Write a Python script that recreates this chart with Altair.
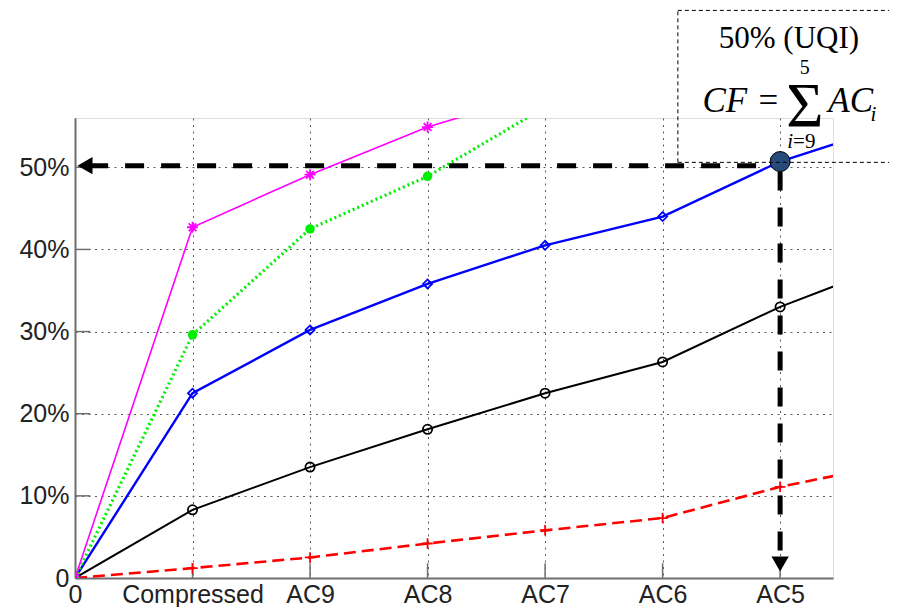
import altair as alt
import pandas as pd

# ---------------- data ----------------
categories = ["0", "Compressed", "AC9", "AC8", "AC7", "AC6", "AC5", "AC4"]
x_index = [0, 1, 2, 3, 4, 5, 6, 7]

magenta_vals = [0.0, 0.427, 0.491, 0.549, 0.592]
green_vals = [0.0, 0.296, 0.425, 0.489, 0.573]
blue_vals = [0.0, 0.225, 0.302, 0.358, 0.405, 0.440, 0.507, 0.553]
black_vals = [0.0, 0.083, 0.135, 0.181, 0.225, 0.263, 0.330, 0.385]
red_vals = [0.0, 0.012, 0.025, 0.042, 0.058, 0.073, 0.111, 0.140]

y_ticks = [0.0, 0.1, 0.2, 0.3, 0.4, 0.5]
x_ticks = [0, 1, 2, 3, 4, 5, 6]

# highlighted point (50% UQI at AC5)
hl_x = [6]
hl_y = [0.507]

# annotation: arrows
h_arrow = {"x": [0.12], "x2": [6.0], "y": [0.502]}
h_head = {"x": [0.085], "y": [0.502]}
v_arrow = {"x": [6.0], "y": [0.495], "y2": [0.03]}
v_head = {"x": [6.0], "y": [0.017]}

# annotation box (three visible sides)
box_x = [5.13, 7.2]
box_y = [0.506, 0.691]

# annotation text pieces
ann_text = ["50% (UQI)", "CF", "=", "\u03a3", "5", "AC", "i", "i", "=9"]
ann_x = [6.075, 5.72, 5.90, 6.21, 6.21, 6.41, 6.77, 6.11, 6.11]
ann_y = [0.645, 0.567, 0.567, 0.549, 0.613, 0.567, 0.556, 0.5235, 0.5235]
ann_size = [31, 35, 35, 64, 20, 35, 21, 21, 21]
ann_style = ["normal", "italic", "normal", "normal", "normal", "italic", "italic", "italic", "normal"]
ann_align = ["center", "right", "center", "center", "center", "left", "left", "right", "left"]

# ---------------- chart ----------------
W, H = 758, 460
xscale = alt.Scale(domain=[0, 6.45], nice=False, zero=False)
yscale = alt.Scale(domain=[0, 0.56], nice=False)

label_expr = "['0','Compressed','AC9','AC8','AC7','AC6','AC5'][datum.value]"
xaxis = alt.Axis(values=x_ticks, labelExpr=label_expr, grid=True, gridDash=[2, 4.5],
                 gridColor="#5a5a5a", gridWidth=1, ticks=False, domainColor="#6e6e6e",
                 domainWidth=2, labelFont="Liberation Sans", labelFontSize=25,
                 labelColor="#222222", labelPadding=4, labelFlush=False,
                 labelOverlap=False, title="")
yaxis = alt.Axis(values=y_ticks, labelExpr="datum.value == 0 ? '0' : format(datum.value, '.0%')",
                 grid=True, gridDash=[2, 4.5], gridColor="#5a5a5a", gridWidth=1, ticks=False,
                 domainColor="#6e6e6e", domainWidth=2, labelFont="Liberation Sans",
                 labelFontSize=25, labelColor="#222222", labelPadding=6, labelFlush=False,
                 labelOverlap=False, title="")


def X(field="x"):
    return alt.X(field, type="quantitative", scale=xscale, axis=xaxis)


def Y(field="y"):
    return alt.Y(field, type="quantitative", scale=yscale, axis=yaxis)


# inner ticks (MATLAB style)
ytick_df = pd.DataFrame({"y": y_ticks[1:], "x": [0.0] * 5, "x2": [0.13] * 5})
xtick_df = pd.DataFrame({"x": x_ticks[1:], "y": [0.0] * 6, "y2": [0.018] * 6})
yticks = alt.Chart(ytick_df).mark_rule(color="#6e6e6e", strokeWidth=1.5).encode(
    x=X(), x2="x2", y=Y())
xticks = alt.Chart(xtick_df).mark_rule(color="#6e6e6e", strokeWidth=1.5).encode(
    x=X(), y=Y(), y2="y2")

STAR = "M-1,0L1,0M0,-1L0,1M-0.7,-0.7L0.7,0.7M-0.7,0.7L0.7,-0.7"
PLUS = "M-1,0L1,0M0,-1L0,1"


def series(vals, color, width, dash, shape, filled, msize):
    df = pd.DataFrame({"x": x_index[:len(vals)], "y": vals})
    line_kw = dict(color=color, strokeWidth=width, clip=True)
    if dash:
        line_kw["strokeDash"] = dash
    line = alt.Chart(df).mark_line(**line_kw).encode(x=X(), y=Y())
    pt_kw = dict(shape=shape, filled=filled, size=msize, clip=True, opacity=1)
    if filled:
        pt_kw["color"] = color
    else:
        pt_kw["stroke"] = color
        pt_kw["strokeWidth"] = 1.8
    pts = alt.Chart(df).mark_point(**pt_kw).encode(x=X(), y=Y())
    return line + pts


red = series(red_vals, "#ff0000", 2.6, [12, 6], PLUS, False, 110)
black = series(black_vals, "#000000", 2, None, "circle", False, 85)
blue = series(blue_vals, "#0000ff", 2.4, None, "diamond", False, 80)
green = series(green_vals, "#00ee00", 3.2, [2, 3], "circle", True, 90)
magenta = series(magenta_vals, "#ff00ff", 1.6, None, STAR, False, 120)

harrow = alt.Chart(pd.DataFrame(h_arrow)).mark_rule(
    color="black", strokeWidth=5, strokeDash=[19, 17], clip=False).encode(x=X(), x2="x2", y=Y())
hhead = alt.Chart(pd.DataFrame(h_head)).mark_point(
    shape="triangle-left", filled=True, color="black", size=300, opacity=1, clip=False).encode(x=X(), y=Y())
varrow = alt.Chart(pd.DataFrame(v_arrow)).mark_rule(
    color="black", strokeWidth=5, strokeDash=[19, 17], clip=False).encode(x=X(), y=Y(), y2="y2")
vhead = alt.Chart(pd.DataFrame(v_head)).mark_point(
    shape="triangle-down", filled=True, color="black", size=300, opacity=1, clip=False).encode(x=X(), y=Y())

hl = alt.Chart(pd.DataFrame({"x": hl_x, "y": hl_y})).mark_point(
    shape="circle", filled=True, fill="#264a7a", stroke="black", strokeWidth=1,
    size=400, opacity=1, clip=False).encode(x=X(), y=Y())

# annotation box sides
box_top = alt.Chart(pd.DataFrame({"x": [box_x[0]], "x2": [box_x[1]], "y": [box_y[1]]})).mark_rule(
    color="black", strokeWidth=1, strokeDash=[4, 3], clip=False).encode(x=X(), x2="x2", y=Y())
box_bot = alt.Chart(pd.DataFrame({"x": [box_x[0]], "x2": [box_x[1]], "y": [box_y[0]]})).mark_rule(
    color="black", strokeWidth=1, strokeDash=[4, 3], clip=False).encode(x=X(), x2="x2", y=Y())
box_left = alt.Chart(pd.DataFrame({"x": [box_x[0]], "y": [box_y[0]], "y2": [box_y[1]]})).mark_rule(
    color="black", strokeWidth=1, strokeDash=[4, 3], clip=False).encode(x=X(), y=Y(), y2="y2")

texts = []
for t, tx, ty, sz, st, al in zip(ann_text, ann_x, ann_y, ann_size, ann_style, ann_align):
    df = pd.DataFrame({"x": [tx], "y": [ty], "t": [t]})
    texts.append(alt.Chart(df).mark_text(
        font="Liberation Serif", fontSize=sz, fontStyle=st, align=al,
        baseline="alphabetic", color="black", clip=False).encode(x=X(), y=Y(), text="t:N"))

chart = alt.layer(
    yticks, xticks, red, black, blue, green, magenta,
    harrow, varrow, hhead, vhead, hl,
    box_top, box_bot, box_left, *texts
).properties(
    width=W, height=H,
    autosize=alt.AutoSizeParams(type="none"),
    padding={"left": 67, "top": 110, "right": 56, "bottom": 29},
).configure_view(strokeWidth=0).configure(background="white")

chart.save("out.html", embed_options={"renderer": "svg", "actions": False})
